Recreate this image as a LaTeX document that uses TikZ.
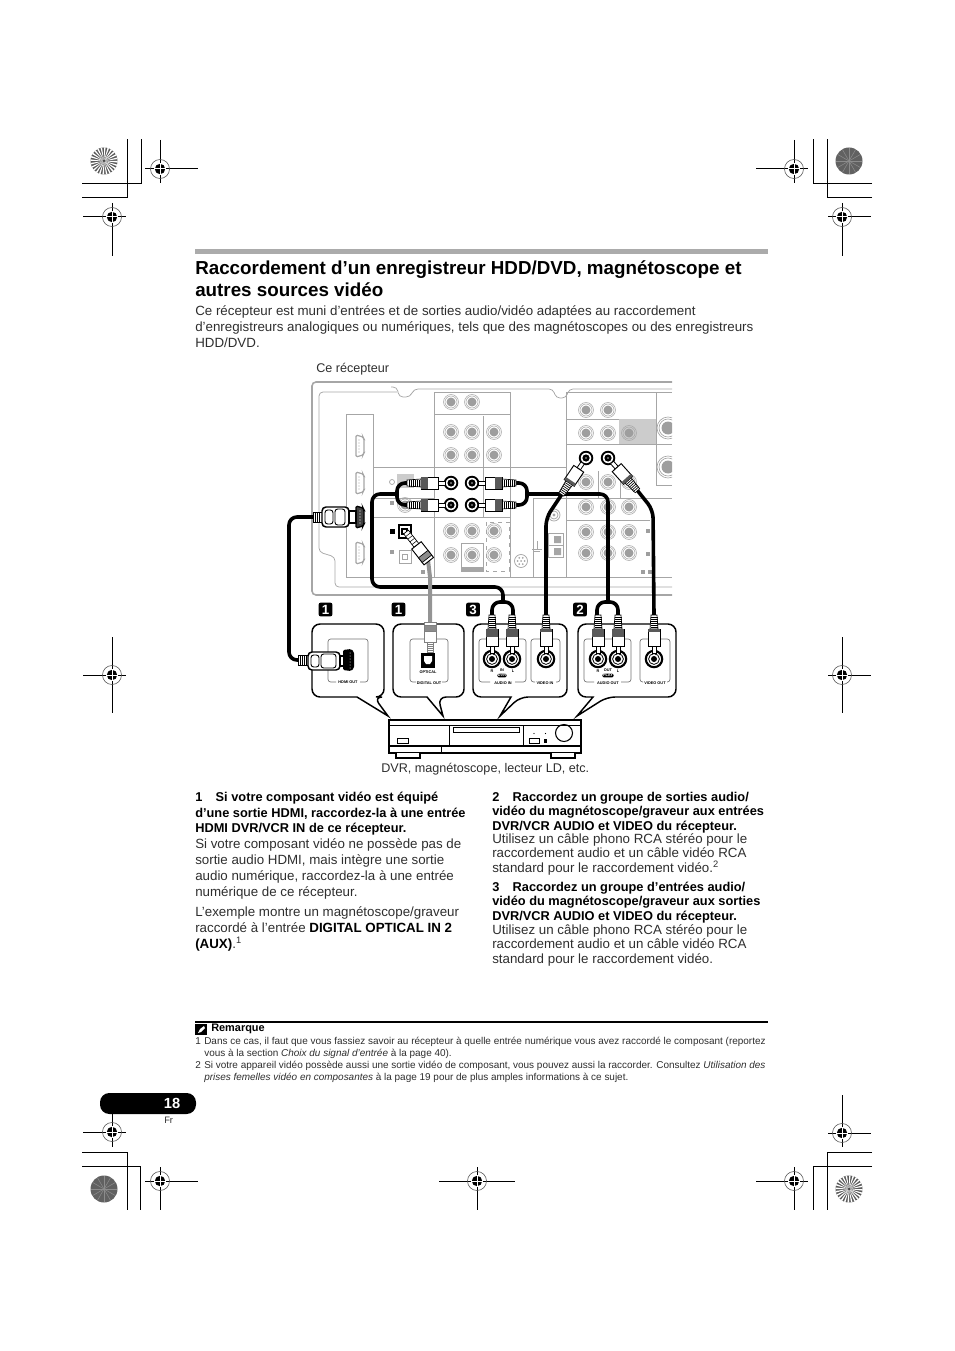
\documentclass[tikz,border=0pt]{standalone}
\usepackage{fontspec}
\setmainfont{Liberation Sans}
\definecolor{inkgray}{gray}{0.18}
\definecolor{panelline}{gray}{0.65}
\definecolor{barfill}{gray}{0.67}
\tikzset{
  bodytext/.style={anchor=north west,inner sep=0pt,align=left,text=inkgray,
    font=\fontsize{10}{12}\selectfont},
  tighttext/.style={bodytext,font=\fontsize{10}{10.9}\selectfont},
  labeltext/.style={bodytext,font=\fontsize{9.45}{12}\selectfont},
  boldtext/.style={anchor=north west,inner sep=0pt,align=left,text=black,
    font=\fontsize{9.6}{10.9}\selectfont\bfseries},
  boldwide/.style={boldtext,font=\fontsize{9.6}{11.6}\selectfont\bfseries},
  notetext/.style={anchor=north west,inner sep=0pt,align=left,text=inkgray,
    font=\fontsize{7.47}{9}\selectfont},
  tinytext/.style={inner sep=0.4pt,text=black,font=\fontsize{2.9}{3}\selectfont\bfseries},
  badge/.style={fill=black,text=white,rounded corners=1.5pt,inner sep=0pt,
    minimum width=10.3pt,minimum height=10.3pt,font=\fontsize{10}{10}\selectfont\bfseries},
  panel/.style={panelline,line width=0.55pt},
  cable/.style={line width=2.7pt,rounded corners=6pt},
  bubble/.style={line width=1.1pt,fill=white},
  bracket/.style={black!55,line width=0.5pt,rounded corners=2pt},
  trim/.style={line width=0.75pt},
  pics/gsock/.style={code={
    \draw[panelline,line width=0.4pt] (0,0) circle (7.5) circle (6);
    \fill[black!38] (0,0) circle (4.5);}},
  pics/bsock/.style={code={
    \draw[black,line width=1.4pt] (0,0) circle (6.3);
    \fill[black] (0,0) circle (3.6);
    \fill[black!50] (0,0) circle (1.2);}},
  pics/dsock/.style={code={
    \draw[black,line width=1.6pt] (0,0) circle (8.2);
    \draw[black,line width=0.6pt] (0,0) circle (5.4);
    \fill[black] (0,0) circle (3);}},
  pics/rcaplug/.style={code={
    \draw[black,fill=white,line width=0.5pt] (-4,-30) -- (-3,-44) -- (3,-44) -- (4,-30) -- cycle;
    \foreach \s in {-42,-40,...,-32} \draw[black,line width=0.5pt] (-3.5,\s) -- (3.5,\s);
    \draw[black,fill=white,line width=0.6pt] (-2,-6) rectangle (2,-13);
    \draw[black,fill=white,line width=0.7pt] (-6,-13) rectangle (6,-30);
    \fill[black!65] (-6,-30) rectangle (6,#1);}},
  pics/optplug/.style n args={2}{code={
    \draw[#1,fill=white,line width=0.5pt] (-3,0) rectangle (3,#2);
    \foreach \f in {0.2,0.4,0.6,0.8} \draw[#1,line width=0.4pt] (-3,\f*#2) -- (3,\f*#2);
    \draw[#1,fill=white,line width=0.7pt] (-6,#2) rectangle (6,#2-20);
    \draw[#1,fill=black!45,line width=0.5pt] (-6,#2-11) rectangle (6,#2-17);}},
}
% crop mark: centre, then reach left, right, up, down
\newcommand{\regmark}[6]{
  \draw[trim] (#1-#3,#2) -- (#1+#4,#2) (#1,#2-#5) -- (#1,#2+#6);
  \draw[black!70,line width=0.4pt] (#1,#2) circle (9.5);
  \fill[black] (#1,#2) circle (5.2);
  \draw[white,line width=0.75pt] (#1-6,#2) -- (#1+6,#2) (#1,#2-6) -- (#1,#2+6);
}
\newcommand{\sunlight}[2]{
  \fill[black!65] (#1,#2) circle (13.5);
  \foreach \a in {0,15,...,345}
    \fill[white] (#1,#2) -- ++(\a:13.5) -- ++(\a+90:1.6) -- cycle;
  \fill[black!70] (#1,#2) circle (1.5);
}
\newcommand{\sundark}[2]{
  \fill[black!62] (#1,#2) circle (13.5);
  \foreach \a in {0,30,...,330}
    \draw[white!55!black,line width=0.4pt] (#1,#2) -- ++(\a:13);
}
\newcommand{\speech}[5]{
  \draw[bubble] (#1,660) [rounded corners=6pt] -- (#1,624) -- (#2,624) -- (#2,697) -- (#4,697)
    [sharp corners] -- (#5,716) -- (#3,697) [rounded corners=6pt] -- (#1,697) -- (#1,660);
}
\begin{document}
\begin{tikzpicture}[x=0.75pt,y=-0.75pt]
\useasboundingbox (0,0) rectangle (954,1351);

% crop marks
\draw[trim] (82,184) -- (141,184) -- (141,139) (82,198) -- (127,198) -- (127,139);
\draw[trim] (872,184) -- (813,184) -- (813,139) (872,198) -- (827,198) -- (827,139);
\draw[trim] (82,1152) -- (127,1152) -- (127,1210) (82,1166) -- (140,1166) -- (140,1210);
\draw[trim] (872,1152) -- (827,1152) -- (827,1210) (872,1166) -- (813,1166) -- (813,1210);
\sunlight{104}{161}
\sundark{849}{161}
\sundark{104}{1189}
\sunlight{849}{1189}
\regmark{160}{169}{15}{38}{29}{14}
\regmark{112}{217}{29}{14}{14}{39}
\regmark{794}{169}{38}{14}{29}{14}
\regmark{842}{217}{14}{29}{14}{39}
\regmark{112}{675}{29}{14}{38}{38}
\regmark{842}{675}{14}{29}{38}{38}
\regmark{112}{1132}{29}{14}{38}{15}
\regmark{842}{1133}{14}{29}{38}{14}
\regmark{160}{1181}{15}{38}{14}{29}
\regmark{477}{1181}{38}{38}{14}{29}
\regmark{794}{1181}{38}{14}{14}{29}

% heading
\fill[barfill] (195,249) rectangle (768,254);
\node[anchor=north west,inner sep=0pt,align=left,font=\fontsize{14.1}{16.6}\selectfont\bfseries] (headline) at (195,260)
  {Raccordement d’un enregistreur HDD/DVD, magnétoscope et\\autres sources vidéo};
\node[bodytext] (intro) at (195,305) {Ce récepteur est muni d’entrées et de sorties audio/vidéo adaptées au raccordement\\
  d’enregistreurs analogiques ou numériques, tels que des magnétoscopes ou des enregistreurs\\HDD/DVD.};
\node[labeltext] (recvlabel) at (316,363) {Ce récepteur};

% rear panel of the receiver
\draw[panel,line width=1.2pt,rounded corners=3pt] (672,382) -- (312,382) -- (312,595) -- (672,595);
\draw[panel,rounded corners=3pt] (397,392) -- (319,392) -- (319,552) -- (335,557) -- (335,587) -- (672,587);
\draw[panel,rounded corners=3pt] (391,387) -- (397,387) -- (399,397) -- (410,397) -- (414,389) -- (553,389)
  -- (556,398) -- (566,398) -- (569,389) -- (672,389);
\draw[panel] (346,577) -- (346,414) -- (373,414) -- (373,577) (346,577) -- (672,577);
\draw[panel] (373,467) -- (566,467) (373,517) -- (510,517) (434,392) -- (510,392) -- (510,577);
\draw[panel] (434,392) -- (434,577) (434,414) -- (510,414) (483,416) -- (483,517);
\draw[panel] (373,498) -- (434,498);
\draw[panel] (566,392) -- (566,577) (566,392) -- (672,392) (566,419) -- (619,419) (566,444) -- (672,444);
\draw[panel] (566,498) -- (672,498) (566,520) -- (650,520) (656,392) -- (656,485) (656,485) -- (672,485);
\draw[panel] (598,471) -- (598,498) (620,471) -- (620,498) (533,498) -- (533,577) (533,498) -- (566,498);
\fill[black!20] (619,419) rectangle (656,444);
\fill[black!20] (397,474) rectangle (414,488);
\draw[panel,dashed,line width=0.5pt] (486,522) rectangle (509,571);
\draw[panel] (461,543) rectangle (483,571);
\fill[panelline] (461,567) rectangle (483,571);
% receiver sockets
\foreach \x/\y in {451/402,472/402,451/432,472/432,494/432,451/455,472/455,494/455,
  451/531,472/531,494/531,451/555,472/555,494/555,586/410,608/410,586/433,608/433,629/433,
  586/482,608/482,629/482,586/507,608/507,629/507,586/532,608/532,629/532,586/553,608/553,629/553,405/505}
  \pic at (\x,\y) {gsock};
\foreach \x/\y in {451/483,472/483,451/505,472/505,586/458,608/458}
  \pic at (\x,\y) {bsock};
\begin{scope}
  \clip (640,385) rectangle (672,500);
  \foreach \y in {428,467} {
    \draw[panelline,line width=0.5pt] (668,\y) circle (11) circle (9);
    \fill[black!38] (668,\y) circle (6.5);}
\end{scope}
\draw[panel] (554,515) circle (6) circle (4);
\fill[panelline] (554,515) circle (1.6);
\draw[panel] (521,561) circle (6.5);
\foreach \a in {0,60,...,300} \fill[panelline] (521,561) ++(\a:3.5) circle (1);
\fill[panelline] (521,561) circle (1);
\draw[panel] (548,533) rectangle (563,545) (548,545) rectangle (563,557);
\fill[black!35] (554,536) rectangle (561,543) (554,548) rectangle (561,555);
\draw[panel] (537,541) -- (537,549) (532,549) -- (542,549) (534,551) -- (540,551);
% small squares and the light ports
\foreach \x/\y in {392/503,392/552,648/531,648/554,643/572,650/572,423/572}
  \fill[black!38] (\x-2,\y-2) rectangle (\x+2,\y+2);
\draw[panel] (392,482) circle (2.5);
\fill[black] (389.5,528.5) rectangle (394.5,533.5);
\draw[black,line width=1pt] (399,525) rectangle (411,538);
\draw[black,line width=0.8pt] (402,529) rectangle (407,534);
\draw[panel] (399,550) rectangle (411,563) (402,554) rectangle (407,559);
\foreach \y/\c in {435/panelline,472/panelline,542/panelline} {
  \draw[\c,line width=0.9pt,rounded corners=1pt] (356,\y) -- (363,\y+2) -- (364,\y+4) -- (364,\y+18) -- (363,\y+20) -- (356,\y+22) -- cycle;
  \foreach \s in {5,8,...,17} \fill[\c] (359,\y+\s) circle (0.6);
}
\draw[black,line width=1pt,rounded corners=1pt,fill=black!75] (356,506) -- (363,508) -- (364,510) -- (364,524) -- (363,526) -- (356,528) -- cycle;
\foreach \s in {511,514,...,523} \fill[white] (360,\s) circle (0.6);

% the page's source unit
\speech{312}{384}{357}{374}{388}
\speech{393}{464}{427}{438}{443}
\speech{473}{567}{511}{520}{500}
\speech{578}{676}{593}{607}{577}
\draw[bracket] (336,682) -- (328,682) -- (328,639) -- (368,639) -- (368,682) -- (360,682);
\draw[bracket] (416,682) -- (410,682) -- (410,639) -- (448,639) -- (448,682) -- (442,682);
\draw[bracket] (490,682) -- (479,682) -- (479,639) -- (526,639) -- (526,682) -- (515,682);
\draw[bracket] (535,682) -- (531,682) -- (531,639) -- (560,639) -- (560,682) -- (556,682);
\draw[bracket] (594,682) -- (584,682) -- (584,639) -- (631,639) -- (631,682) -- (621,682);
\draw[bracket] (643,682) -- (640,682) -- (640,639) -- (670,639) -- (670,682) -- (667,682);
\node[tinytext] (hdmilabel) at (348,682) {HDMI OUT};
\node[tinytext] (optlabel) at (428,672) {OPTICAL};
\node[tinytext] (digitallabel) at (429,683) {DIGITAL OUT};
\node[tinytext] (audiointxt) at (503,683) {AUDIO IN};
\node[tinytext] (videointxt) at (545,683) {VIDEO IN};
\node[tinytext] (audioouttxt) at (608,683) {AUDIO OUT};
\node[tinytext] (videoouttxt) at (655,683) {VIDEO OUT};
\node[tinytext] (rleft) at (492,671) {R};
\node[tinytext] (lleft) at (513,671) {L};
\node[tinytext] (intxt) at (502,670) {IN};
\node[tinytext] (rright) at (598,671) {R};
\node[tinytext] (lright) at (618,671) {L};
\node[tinytext] (outtxt) at (608,670) {OUT};
\node[tinytext,fill=black,text=white,rounded corners=1pt] (dvrtag) at (502,675.5) {DVR};
\node[tinytext,fill=black,text=white,rounded corners=1pt] (playtag) at (608,675.5) {PLAY};
\foreach \x in {492,512,546,598,618,654} \pic at (\x,659) {dsock};
\fill[black] (421,653) rectangle (435,668);
\fill[white] (424,656) -- (432,656) -- (432,661) -- (430,664) -- (426,664) -- (424,661) -- cycle;
\fill[black,rounded corners=1pt] (343,650) -- (351,649) -- (354,652) -- (354,668) -- (351,671) -- (343,670) -- cycle;
\foreach \s in {653,656,...,668} \fill[white] (350,\s) circle (0.5);

% cables
\draw[black,cable] (313,517) -- (289,517) -- (289,660) -- (305,660);
\draw[black,cable] (407,483) -- (397,483) -- (397,505) -- (407,505);
\draw[black,cable] (516,483) -- (527,483) -- (527,505) -- (516,505);
\draw[black,cable] (397,494) -- (372,494) -- (372,587) -- (503,587) -- (503,602);
\draw[black,cable] (527,494) -- (608,494) -- (608,602);
\draw[black,cable] (492,615) -- (492,602) -- (513,602) -- (513,615);
\draw[black,cable] (597,615) -- (597,602) -- (618,602) -- (618,615);
\draw[black,cable] (562,494) -- (546,518) -- (546,615);
\draw[black,cable] (637,490) -- (653,510) -- (654,615);
\draw[black!42,line width=3pt] (428,560) -- (430,577) -- (430,624);
% plugs
\pic[rotate=90] at (451,483) {rcaplug=-23};
\pic[rotate=90] at (451,505) {rcaplug=-23};
\pic[rotate=-90] at (472,483) {rcaplug=-23};
\pic[rotate=-90] at (472,505) {rcaplug=-23};
\pic[rotate=146] at (586,458) {rcaplug=-27};
\pic[rotate=222] at (608,458) {rcaplug=-27};
\foreach \x in {492,512,598,618} \pic at (\x,659) {rcaplug=-22};
\foreach \x in {546,654} \pic at (\x,659) {rcaplug=-27};
\pic[rotate=218] at (406,532) {optplug={black}{-17}};
\pic at (430,652) {optplug={black!50}{-10}};
% the two HDMI plugs
\draw[black,fill=white,line width=0.5pt] (313,512) rectangle (322,522);
\foreach \s in {315,317,319} \draw[black,line width=0.5pt] (\s,512) -- (\s,522);
\draw[black,fill=white,line width=1.1pt,rounded corners=3pt] (322,507) rectangle (349,527);
\draw[black,line width=0.7pt,rounded corners=2pt] (325,510) rectangle (333,524) (335,509) rectangle (345,525);
\draw[black,fill=white,line width=0.9pt] (349,511) rectangle (356,523);
\draw[black,fill=white,line width=0.5pt] (298,655) rectangle (308,665);
\foreach \s in {300,302,304,306} \draw[black,line width=0.5pt] (\s,655) -- (\s,665);
\draw[black,fill=white,line width=1.1pt,rounded corners=3pt] (308,652) rectangle (340,670);
\draw[black,line width=0.7pt,rounded corners=2pt] (311,655) rectangle (319,667) (321,654) rectangle (336,668);
\draw[black,fill=white,line width=0.9pt] (340,656) rectangle (344,666);

\node[badge] (stepa) at (325.5,609.5) {1};
\node[badge] (stepb) at (398.5,609.5) {1};
\node[badge] (stepc) at (473,609.5) {3};
\node[badge] (stepd) at (580,609.5) {2};

% recorder
\draw[black,line width=1.1pt,fill=white] (389,720) rectangle (581,753);
\draw[black,line width=0.5pt] (389,725) -- (581,725);
\fill[black] (389,745) rectangle (581,747);
\draw[black,line width=0.7pt,fill=white] (449,725) rectangle (523,745);
\draw[black,line width=0.7pt] (453,727) rectangle (519,732);
\draw[black,line width=0.8pt] (564,733) circle (8.5);
\draw[black,line width=0.7pt] (397,738) rectangle (408,743) (529,738) rectangle (539,743);
\fill[black] (543.5,739) rectangle (547,743);
\fill[black] (534,733.5) circle (0.6) (545.5,733.5) circle (0.6);
\draw[black,line width=0.7pt] (441,747) -- (441,753);
\draw[black,line width=1pt,fill=white] (396,753) -- (396,758) -- (420,758) -- (420,753);
\draw[black,line width=1pt,fill=white] (551,753) -- (551,758) -- (575,758) -- (575,753);
\node[labeltext] (unitlabel) at (381,763) {DVR, magnétoscope, lecteur LD, etc.};

% left column
\node[boldwide] (stepone) at (195,792) {1\hspace{10pt}Si votre composant vidéo est équipé\\d’une sortie HDMI, raccordez-la à une entrée\\HDMI DVR/VCR IN de ce récepteur.};
\node[bodytext] (steponetxt) at (195,838) {Si votre composant vidéo ne possède pas de\\sortie audio HDMI, mais intègre une sortie\\audio numérique, raccordez-la à une entrée\\numérique de ce récepteur.};
\node[bodytext] (example) at (195,906) {L’exemple montre un magnétoscope/graveur\\raccordé à l’entrée \textbf{\textcolor{black}{DIGITAL OPTICAL IN 2}}\\\textbf{\textcolor{black}{(AUX)}}.\textsuperscript{1}};
% right column
\node[boldtext] (steptwo) at (492,791.5) {2\hspace{10pt}Raccordez un groupe de sorties audio/\\vidéo du magnétoscope/graveur aux entrées\\DVR/VCR AUDIO et VIDEO du récepteur.};
\node[tighttext] (steptwotxt) at (492,833) {Utilisez un câble phono RCA stéréo pour le\\raccordement audio et un câble vidéo RCA\\standard pour le raccordement vidéo.\textsuperscript{2}};
\node[boldtext] (stepthree) at (492,881.5) {3\hspace{10pt}Raccordez un groupe d’entrées audio/\\vidéo du magnétoscope/graveur aux sorties\\DVR/VCR AUDIO et VIDEO du récepteur.};
\node[tighttext] (stepthreetxt) at (492,924) {Utilisez un câble phono RCA stéréo pour le\\raccordement audio et un câble vidéo RCA\\standard pour le raccordement vidéo.};

% notes
\draw[black,line width=1.5pt] (195,1022) -- (768,1022);
\fill[black] (195,1024) rectangle (207,1035);
\fill[white] (198,1033) -- (200,1029) -- (204,1026) -- (205,1028) -- (201,1032) -- cycle;
\node[anchor=west,inner sep=0pt,font=\fontsize{8.2}{9}\selectfont\bfseries] (remark) at (211,1028.5) {Remarque};
\node[notetext] (noteone) at (195,1036.5) {1\hspace{2.6pt}Dans ce cas, il faut que vous fassiez savoir au récepteur à quelle entrée numérique vous avez raccordé le composant (reportez\\\hspace{6.75pt}vous à la section \textit{Choix du signal d’entrée} à la page 40).\\
  2\hspace{2.6pt}Si votre appareil vidéo possède aussi une sortie vidéo de composant, vous pouvez aussi la raccorder. Consultez \textit{Utilisation des}\\\hspace{6.75pt}\textit{prises femelles vidéo en composantes} à la page 19 pour de plus amples informations à ce sujet.};

% page tab
\fill[black,rounded corners=7pt] (100,1093) rectangle (196,1114);
\draw[trim] (112,1114) -- (112,1122);
\node[inner sep=0pt,text=white,font=\fontsize{11}{11}\selectfont\bfseries] (pagenum) at (172,1103) {18};
\node[anchor=west,inner sep=0pt,text=inkgray,font=\fontsize{7}{8}\selectfont] (lang) at (164,1120) {Fr};
\end{tikzpicture}
\end{document}
